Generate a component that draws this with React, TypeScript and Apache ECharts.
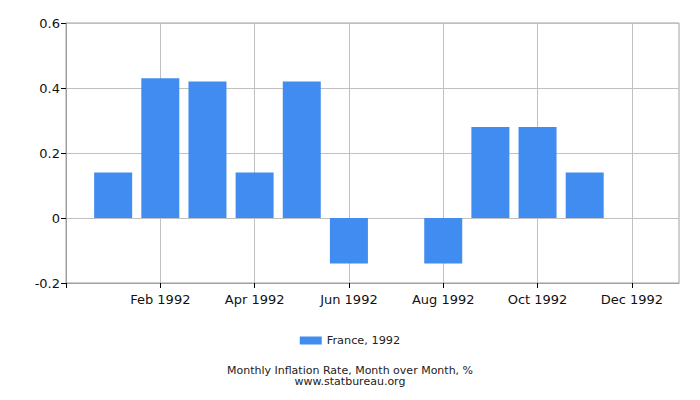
import React, { useEffect, useRef } from "react";
import * as echarts from "echarts";

const months = ["Jan", "Feb", "Mar", "Apr", "May", "Jun", "Jul", "Aug", "Sep", "Oct", "Nov", "Dec"];
const year = "1992";
const values = [0.14, 0.43, 0.42, 0.14, 0.42, -0.14, 0, -0.14, 0.28, 0.28, 0.14, 0];
const xTickValues = [0, 2, 4, 6, 8, 10, 12];
const seriesName = "France, 1992";
const titleLine1 = "Monthly Inflation Rate, Month over Month, %";
const titleLine2 = "www.statbureau.org";

const FONT = "DejaVu Sans";

export default function App() {
  const ref = useRef<HTMLDivElement>(null);
  useEffect(() => {
    if (!ref.current) return;
    const chart = echarts.init(ref.current, undefined, { renderer: "svg" });
    const data = values.map((v, i) => [i + 1, v]);
    chart.setOption({
      animation: false,
      textStyle: { fontFamily: FONT },
      grid: {
        left: 66,
        right: 21,
        top: 23,
        bottom: 117,
        show: true,
        borderColor: "#a0a0a0",
        borderWidth: 1,
        containLabel: false,
      },
      legend: {
        show: true,
        bottom: 49,
        left: "center",
        itemWidth: 22,
        itemHeight: 8,
        icon: "rect",
        itemGap: 6,
        textStyle: { fontFamily: FONT, fontSize: 11.3, color: "#222" },
        data: [seriesName],
      },
      graphic: [
        {
          type: "text",
          x: 350,
          y: 364.5,
          style: {
            text: titleLine1,
            font: `11px "${FONT}"`,
            fill: "#222",
            textAlign: "center",
            textVerticalAlign: "top",
          },
        },
        {
          type: "text",
          x: 350,
          y: 376,
          style: {
            text: titleLine2,
            font: `11px "${FONT}"`,
            fill: "#222",
            textAlign: "center",
            textVerticalAlign: "top",
          },
        },
      ],
      xAxis: {
        type: "value",
        min: 0,
        max: 13,
        interval: 2,
        axisLine: { show: true, onZero: false, lineStyle: { color: "#a0a0a0" } },
        axisTick: { show: true, length: 5, customValues: xTickValues, lineStyle: { color: "#000" } },
        splitLine: { show: true, lineStyle: { color: "#c0c0c0" } },
        axisLabel: {
          fontFamily: FONT,
          fontSize: 13,
          color: "#111",
          margin: 10,
          formatter: (v: number) => {
            const i = Math.round(v) - 1;
            if (i >= 0 && i < months.length && Math.abs(v - Math.round(v)) < 1e-6) return months[i] + " " + year;
            return "";
          },
        },
      },
      yAxis: {
        type: "value",
        min: -0.2,
        max: 0.6,
        interval: 0.2,
        axisLine: { show: true, lineStyle: { color: "#a0a0a0" } },
        axisTick: { show: true, length: 5, lineStyle: { color: "#000" } },
        splitLine: { show: true, lineStyle: { color: "#c0c0c0" } },
        axisLabel: {
          fontFamily: FONT,
          fontSize: 13,
          color: "#111",
          margin: 6,
          formatter: (v: number) => {
            const r = Math.round(v * 10) / 10;
            return r === 0 ? "0" : r.toFixed(1);
          },
        },
      },
      series: [
        {
          name: seriesName,
          type: "bar",
          data,
          barWidth: 38,
          itemStyle: { color: "#418CF0" },
        },
      ],
    });
    return () => chart.dispose();
  }, []);
  return <div ref={ref} style={{ width: 700, height: 400, position: "absolute", left: 0, top: 0 }} />;
}
